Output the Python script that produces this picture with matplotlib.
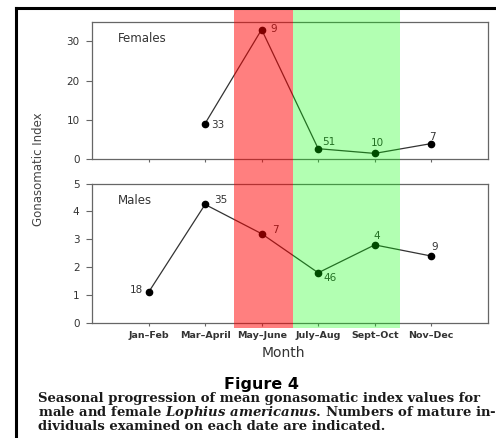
"""
Figure 4: seasonal gonasomatic index, Lophius americanus
"""

import numpy as np
import matplotlib
matplotlib.use('Agg')
import matplotlib.pyplot as plt
from matplotlib.patches import Rectangle
from matplotlib.lines import Line2D
from matplotlib.transforms import blended_transform_factory

plt.rcParams['mathtext.fontset'] = 'custom'
plt.rcParams['mathtext.it'] = 'DejaVu Serif:italic:bold'
plt.rcParams['mathtext.rm'] = 'DejaVu Serif:bold'

# data
months = ['Jan–Feb', 'Mar–April', 'May–June', 'July–Aug', 'Sept–Oct', 'Nov–Dec']
female_gsi = [np.nan, 9.1, 33.0, 2.7, 1.5, 4.0]
female_n = [None, 33, 9, 51, 10, 7]
male_gsi = [1.1, 4.25, 3.2, 1.8, 2.8, 2.4]
male_n = [18, 35, 7, 46, 4, 9]

# label offsets in pixels (dx, dy, ha)
female_off = [None, (6, -1, 'left'), (9, 1, 'left'), (4, 7, 'left'),
              (3, 10, 'center'), (1, 7, 'center')]
male_off = [(-5, 2, 'right'), (9, 4, 'left'), (10, 4, 'left'), (5, -5, 'left'),
            (2, 9, 'center'), (3, 9, 'center')]

x = np.arange(1, len(months) + 1)

fig = plt.figure(figsize=(4.96, 4.38), dpi=100)
ax1 = fig.add_axes([0.1855, 0.6363, 0.798, 0.3142])
ax2 = fig.add_axes([0.1855, 0.2626, 0.798, 0.3184])

spine_col = '#666666'
tick_col = '#333333'


def style(ax):
    for s in ax.spines.values():
        s.set_color(spine_col)
        s.set_linewidth(0.9)
    ax.set_xlim(0, 7)
    ax.set_xticks(x)
    ax.tick_params(axis='y', direction='out', length=4, width=0.8,
                   colors=spine_col, labelcolor=tick_col, labelsize=7.5, pad=5)
    ax.tick_params(axis='x', direction='out', length=2.5, width=0.8,
                   colors=spine_col, labelcolor=tick_col, pad=3)


def plot_series(ax, vals, ns, offs):
    ax.plot(x, vals, color='#333333', lw=0.9, marker='o', markersize=4.5,
            markerfacecolor='black', markeredgecolor='black', zorder=3)
    for xi, v, n, o in zip(x, vals, ns, offs):
        if n is None:
            continue
        ax.annotate(str(n), (xi, v), xytext=(o[0], o[1]), textcoords='offset pixels',
                    ha=o[2], va='center', fontsize=7.5, color='#333333')


# females
style(ax1)
ax1.set_ylim(0, 35)
ax1.set_yticks([0, 10, 20, 30])
ax1.set_xticklabels([])
plot_series(ax1, female_gsi, female_n, female_off)
ax1.text(0.065, 0.88, 'Females', transform=ax1.transAxes, fontsize=8.5,
         color='#333333', va='center')

# males
style(ax2)
ax2.set_ylim(0, 5)
ax2.set_yticks([0, 1, 2, 3, 4, 5])
ax2.set_xticklabels(months, fontsize=6.8, fontweight='bold')
plot_series(ax2, male_gsi, male_n, male_off)
ax2.text(0.065, 0.88, 'Males', transform=ax2.transAxes, fontsize=8.5,
         color='#333333', va='center')

fig.text(0.077, 0.614, 'Gonasomatic Index', rotation=90, ha='center', va='center',
         fontsize=8.5, color='#444444')
fig.text(0.571, 1 - 353 / 438, 'Month', ha='center', va='center',
         fontsize=10, color='#333333')

# highlighted seasons over both panels
trans = blended_transform_factory(ax2.transData, fig.transFigure)
band_y0 = 1 - 328 / 438
band_y1 = 1 - 10 / 438
fig.add_artist(Rectangle((2.51, band_y0), 3.55 - 2.51, band_y1 - band_y0,
                         transform=trans, facecolor='red', alpha=0.5,
                         edgecolor='none', zorder=10))
fig.add_artist(Rectangle((3.55, band_y0), 5.44 - 3.55, band_y1 - band_y0,
                         transform=trans, facecolor='lime', alpha=0.3,
                         edgecolor='none', zorder=10))

# caption
fig.text(0.528, 1 - 385 / 438, 'Figure 4', ha='center', va='center',
         fontsize=11.5, fontweight='heavy', color='black')
caption = ('Seasonal progression of mean gonasomatic index values for\n'
           r'male and female $\mathit{Lophius\ americanus}$. Numbers of mature in-' '\n'
           'dividuals examined on each date are indicated.')
fig.text(38 / 496, 1 - 392 / 438, caption, ha='left', va='top', linespacing=0.93,
         fontsize=9.5, family='DejaVu Serif', fontweight='bold', color='#1a1a1a')

# black frame lines at top and left
fig.add_artist(Line2D([15.7 / 496, 1], [1 - 8.3 / 438] * 2, transform=fig.transFigure,
                      color='black', lw=2.2, zorder=11))
fig.add_artist(Line2D([15.7 / 496] * 2, [0, 1 - 8.3 / 438], transform=fig.transFigure,
                      color='black', lw=2.2, zorder=11))

fig.savefig('out.png', dpi=100)
